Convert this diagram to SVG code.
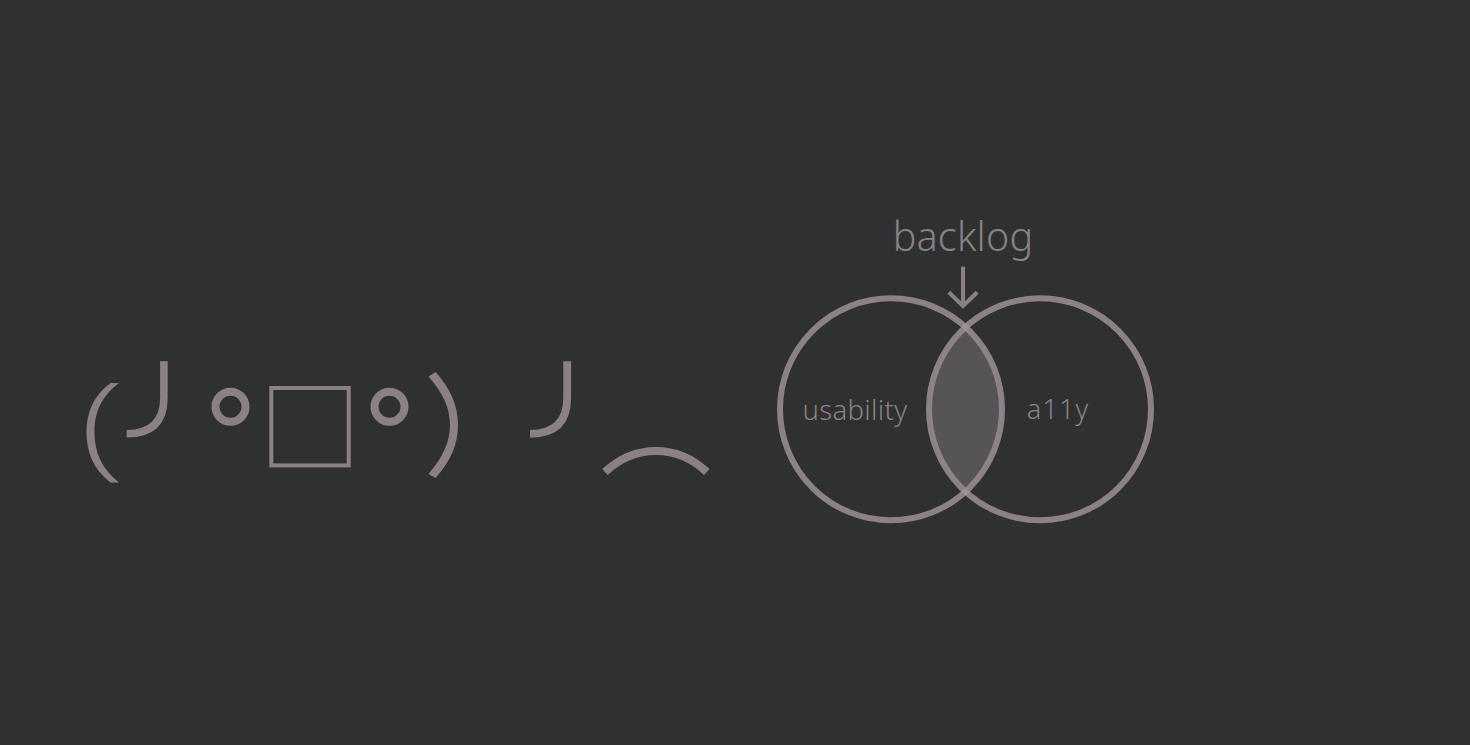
<svg xmlns="http://www.w3.org/2000/svg" width="1470" height="745" viewBox="0 0 1470 745">
<style>
.s{fill:none;stroke:#8b8085;stroke-linecap:butt}
.f{fill:#8b8085}
.t{fill:#8b8085;font-family:"Noto Sans","Open Sans","Liberation Sans",sans-serif;font-weight:300}
.v{fill:none;stroke:#a598a0;stroke-opacity:.78;stroke-width:6}
</style>
<rect width="1470" height="745" fill="#2f3130"/>
<g id="face">
<path class="f" d="M110.500 383H119C102 396 94.500 411 94.500 432C94.500 453 102 469 119 482.500H110.500C94 470 86.500 453 86.500 432C86.500 412 94 395 110.500 383Z"/>
<path class="s" stroke-width="7.600" d="M163.900 361.300V398Q163.900 433.700 126.700 433.700"/>
<circle class="s" stroke-width="8" cx="230.500" cy="406.800" r="15"/>
<rect class="s" stroke-width="4" x="271.300" y="388" width="77.400" height="77.400"/>
<circle class="s" stroke-width="8" cx="389.500" cy="406.800" r="15"/>
<path class="f" d="M435.500 372C450 388 458 405 458 425C458 445 450 462 435.500 478L428.500 474C442 458 450 443 450 425C450 407 442 392 428.500 376.500Z"/>
<path class="s" stroke-width="7.800" d="M567.200 361.300V398Q567.200 433.800 530 433.800"/>
<path class="s" stroke-width="8" d="M605 472C635 444 677 444 706.800 472"/>
</g>
<g id="venn">
<circle id="usability" class="v" cx="891" cy="409.300" r="111"/>
<circle id="a11y" class="v" cx="1040" cy="409.300" r="111"/>
<path d="M965.500 327A111 111 0 0 1 965.500 491.600A111 111 0 0 1 965.500 327Z" fill="#8f8890" fill-opacity=".41"/>
<text class="t" x="855" y="420" font-size="27.500" letter-spacing=".35" text-anchor="middle">usability</text>
<text class="t" x="1058" y="419" font-size="27" letter-spacing="1.100" text-anchor="middle">a11y</text>
</g>
<g id="backlog">
<text class="t" x="963" y="251" font-size="39.500" letter-spacing=".2" text-anchor="middle">backlog</text>
</g>
<g id="connectors">
<path class="s" stroke-width="4" d="M963 266.700V305M948.800 292.300L963 306L977.200 292.300"/>
</g>
</svg>
